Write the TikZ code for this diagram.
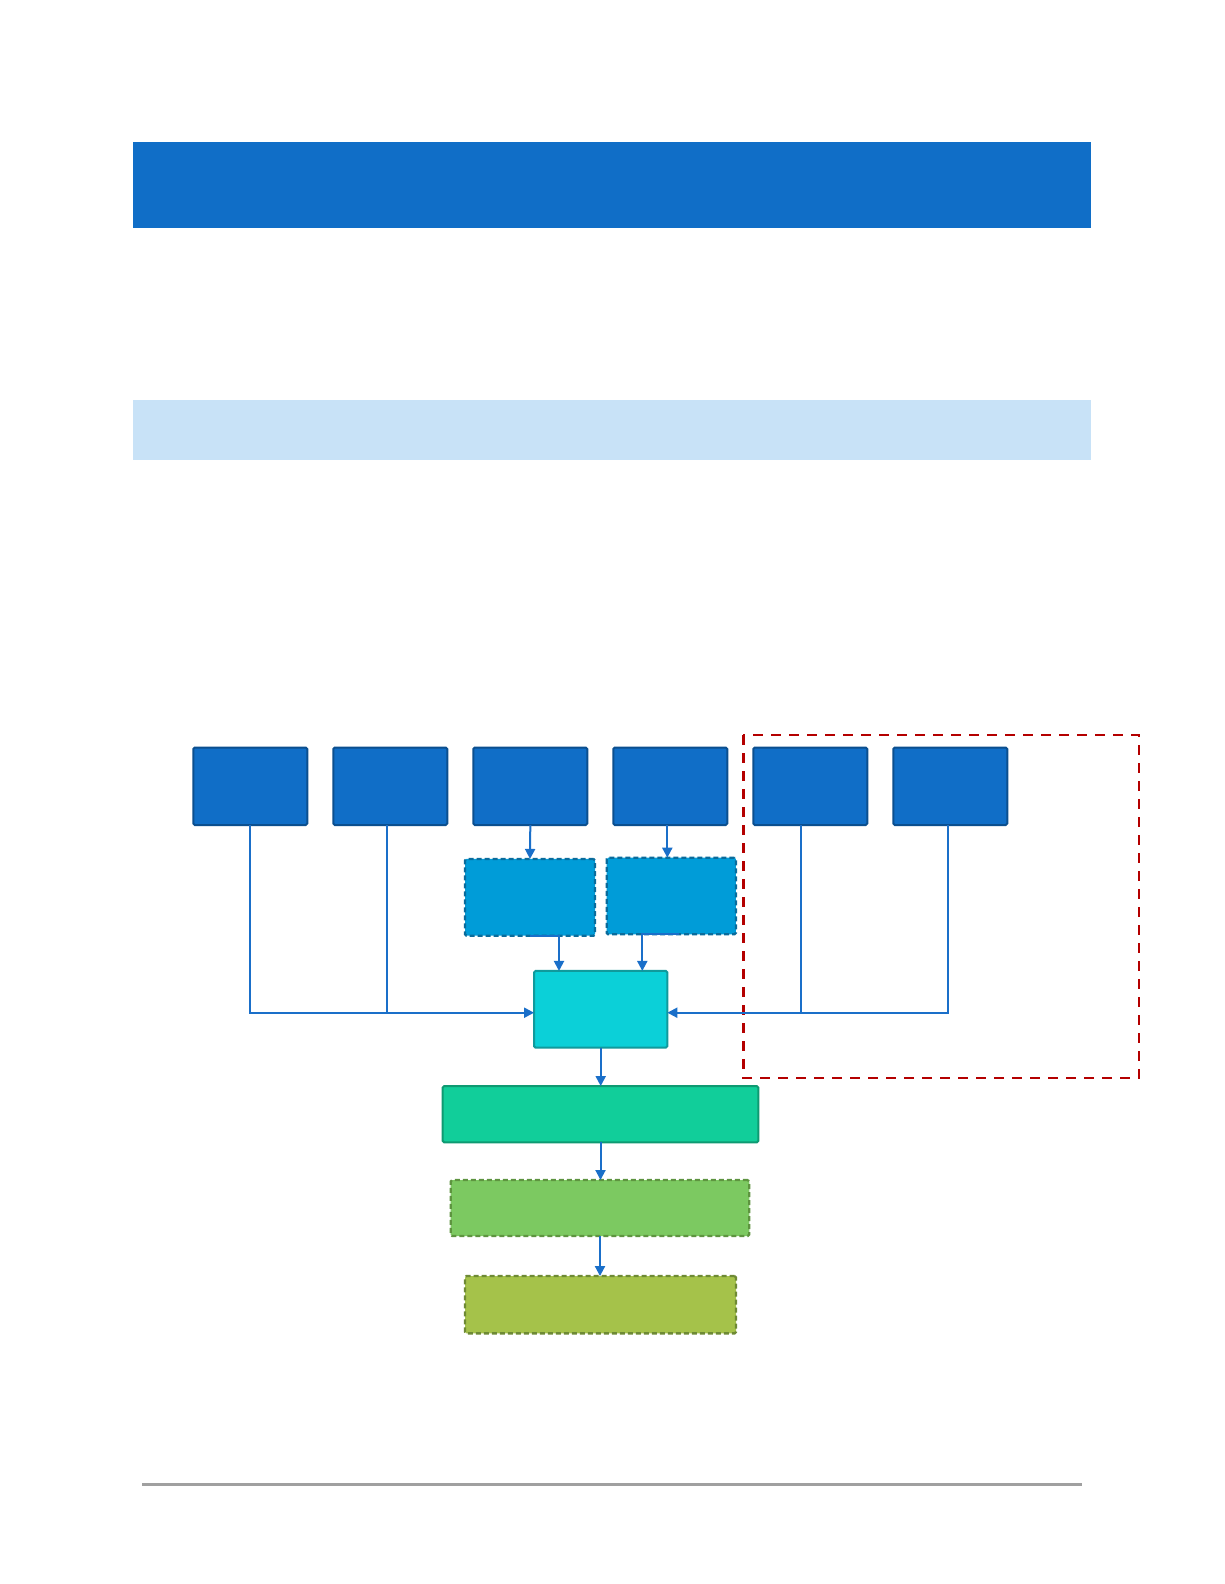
\documentclass[tikz,border=0pt]{standalone}
\usetikzlibrary{arrows.meta}
\definecolor{hdrblue}{HTML}{106EC7}
\definecolor{lightbar}{HTML}{C8E2F7}
\definecolor{topfill}{HTML}{106EC7}
\definecolor{topdraw}{HTML}{0B4F8F}
\definecolor{midfill}{HTML}{009CD8}
\definecolor{middraw}{HTML}{0A6C9C}
\definecolor{cyanfill}{HTML}{0BD0D8}
\definecolor{cyandraw}{HTML}{109A9C}
\definecolor{grnfill}{HTML}{11CE9A}
\definecolor{grndraw}{HTML}{0E9A72}
\definecolor{lgfill}{HTML}{7CC961}
\definecolor{lgdraw}{HTML}{5E9440}
\definecolor{olfill}{HTML}{A5C24A}
\definecolor{oldraw}{HTML}{6E8A35}
\definecolor{conncol}{HTML}{1A6FC9}
\definecolor{redline}{HTML}{B40000}
\definecolor{footgray}{HTML}{A0A0A0}
\tikzset{
  x=1pt, y=-1pt,
  boxbase/.style={rectangle, inner sep=0pt, outer sep=0pt, line width=2pt, rounded corners=1.5pt},
  topbox/.style={boxbase, fill=topfill, draw=topdraw, minimum width=114pt, minimum height=77.5pt},
  midbox/.style={boxbase, fill=midfill, draw=middraw, line width=2.3pt, dash pattern=on 5pt off 3pt},
  cyanbox/.style={boxbase, fill=cyanfill, draw=cyandraw},
  grnbox/.style={boxbase, fill=grnfill, draw=grndraw},
  lgbox/.style={boxbase, fill=lgfill, draw=lgdraw, line width=2.3pt, dash pattern=on 5pt off 3pt},
  olbox/.style={boxbase, fill=olfill, draw=oldraw, line width=2.3pt, dash pattern=on 5pt off 3pt},
  conn/.style={draw=conncol, line width=2pt},
  arr/.style={conn, -{Triangle[length=10pt,width=10pt]}},
}
\begin{document}
\begin{tikzpicture}
\useasboundingbox (0,0) rectangle (1224,1584);
\fill[white] (0,0) rectangle (1224,1584);
% header bars
\fill[hdrblue] (133,142) rectangle (1091,228);
\fill[lightbar] (133,400) rectangle (1091,460);
% footer line
\draw[footgray, line width=3pt] (142,1484) -- (1082,1484);
% red dashed group
\draw[redline, line width=2.8pt, dash pattern=on 10pt off 8pt] (743.3,735) rectangle (1139,1078);
% top row
\node[topbox] (t1) at (250.3,786.25) {};
\node[topbox] (t2) at (390.3,786.25) {};
\node[topbox] (t3) at (530.3,786.25) {};
\node[topbox] (t4) at (670.3,786.25) {};
\node[topbox] (t5) at (810.3,786.25) {};
\node[topbox] (t6) at (950.3,786.25) {};
% middle dashed boxes
\node[midbox, minimum width=130pt, minimum height=76.7pt] (A) at (530,897.3) {};
\node[midbox, minimum width=129.3pt, minimum height=76.6pt] (B) at (671.3,896) {};
% cyan
\node[cyanbox, minimum width=133.3pt, minimum height=76.7pt] (C) at (600.7,1009.3) {};
% lower chain
\node[grnbox, minimum width=315.6pt, minimum height=56.3pt] (D) at (600.5,1114.2) {};
\node[lgbox, minimum width=298.6pt, minimum height=56pt] (E) at (600,1208) {};
\node[olbox, minimum width=271pt, minimum height=57.3pt] (F) at (600.5,1304.7) {};
% connectors
\coordinate (cw) at ([yshift=-3.4pt]C.west);
\coordinate (ce) at ([yshift=-3.4pt]C.east);
\draw[arr] (t1.south) |- (cw);
\draw[conn] ([xshift=-3pt]t2.south) -- ([xshift=-3pt]t2.south |- cw);
\draw[arr] ([xshift=-2pt]t6.south) |- (ce);
\draw[conn] ([xshift=-9pt]t5.south) -- ([xshift=-9pt]t5.south |- ce);
\draw[arr] (t3.south) -- (A.north);
\draw[arr] ([xshift=-3pt]t4.south) -- ([xshift=-3pt]t4.south |- B.north);
\draw[arr] (A.south) -| ([xshift=-41.7pt]C.north);
\draw[arr] ([xshift=8pt]B.south) -| ([xshift=41.6pt]C.north);
\draw[arr] (C.south) -- (C.south |- D.north);
\draw[arr] (D.south) -- (D.south |- E.north);
\draw[arr] (E.south) -- (E.south |- F.north);
\end{tikzpicture}
\end{document}
